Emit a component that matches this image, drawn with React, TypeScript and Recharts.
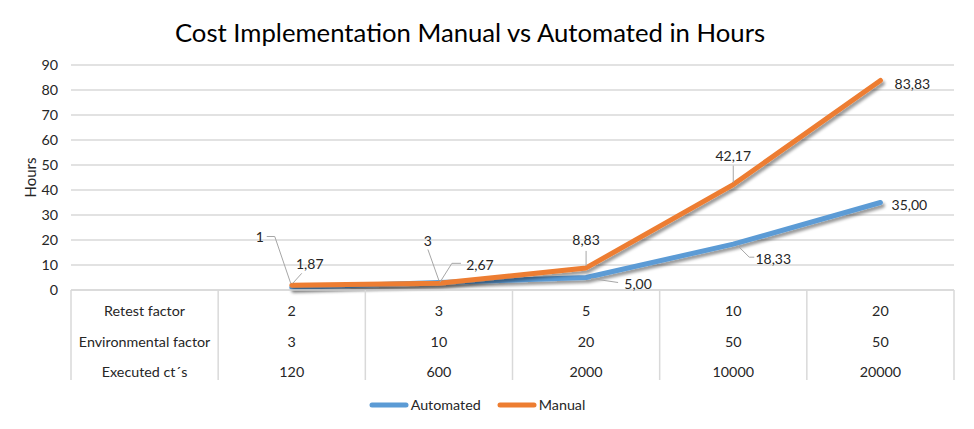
import { CartesianGrid, Legend, LabelList, Line, LineChart, XAxis, YAxis } from "recharts";

const categories = ["labels", "c1", "c2", "c3", "c4", "c5"];
const automated = [null, 1, 3, 5, 18.33, 35];
const manual = [null, 1.87, 2.67, 8.83, 42.17, 83.83];
const rowLabels = ["Retest factor", "Environmental factor", "Executed ct´s"];
const retestFactor = [2, 3, 5, 10, 20];
const environmentalFactor = [3, 10, 20, 50, 50];
const executedCts = [120, 600, 2000, 10000, 20000];
const yTicks = [0, 10, 20, 30, 40, 50, 60, 70, 80, 90];

const tableRows = [retestFactor, environmentalFactor, executedCts];
const data = categories.map((key, i) => ({ key, automated: automated[i], manual: manual[i] }));

const W = 974;
const H = 429;
const MARGIN = { top: 65, right: 20, left: 0, bottom: 10 };
const Y_AXIS_W = 71;
const STEP = (W - MARGIN.left - MARGIN.right - Y_AXIS_W) / categories.length;
const BLUE = "#5B9BD5";
const ORANGE = "#ED7D31";
const GRID = "#D9D9D9";
const FONT = "Lato, 'Open Sans', sans-serif";
const ROW_Y = [20, 51, 81];
const TABLE_H = 90;

// label placement per point (Excel moved some labels by hand, with leader lines)
type LabelCfg = { dx: number; dy: number; dec: number; leader?: number[][] } | null;
const automatedLabelCfg: LabelCfg[] = [
  null,
  { dx: -32, dy: -51, dec: 0, leader: [[-25, -51], [-17, -51], [-1, -4]] },
  { dx: -11, dy: -42, dec: 0, leader: [[-11, -33], [0, -2]] },
  { dx: 52, dy: 6, dec: 2, leader: [[5, 1], [32, 5]] },
  { dx: 40, dy: 14, dec: 2, leader: [[4, 1], [16, 13], [21, 13]] },
  { dx: 29, dy: 2, dec: 2 },
];
const manualLabelCfg: LabelCfg[] = [
  null,
  { dx: 18, dy: -22, dec: 2, leader: [[10, -12], [1, -2]] },
  { dx: 41, dy: -19, dec: 2, leader: [[22, -20], [13, -20], [1, -1]] },
  { dx: 0, dy: -28, dec: 2, leader: [[0, -17], [0, -2]] },
  { dx: 0, dy: -29, dec: 2, leader: [[0, -19], [0, -2]] },
  { dx: 32, dy: 3, dec: 2 },
];

function makeLabel(cfg: LabelCfg[]) {
  return function PointLabel(props: any) {
    const { x, y, value, index } = props;
    const c = cfg[index];
    if (!c || value == null) return null;
    const text = Number(value).toFixed(c.dec).replace(".", ",");
    return (
      <g>
        {c.leader && (
          <polyline
            points={c.leader.map(([px, py]) => `${x + px},${y + py}`).join(" ")}
            fill="none"
            stroke="#A6A6A6"
            strokeWidth={1}
          />
        )}
        <text x={x + c.dx} y={y + c.dy} textAnchor="middle" dominantBaseline="central" fontSize={14} fill="#262626" fontFamily={FONT}>
          {text}
        </text>
      </g>
    );
  };
}

function TableTick({ x, y, payload }: any) {
  const i = payload.index;
  const left = x - STEP / 2;
  return (
    <g>
      <line x1={left} y1={y} x2={left} y2={y + TABLE_H} stroke={GRID} strokeWidth={1.5} />
      {i === categories.length - 1 && (
        <line x1={x + STEP / 2} y1={y} x2={x + STEP / 2} y2={y + TABLE_H} stroke={GRID} strokeWidth={1.5} />
      )}
      {tableRows.map((row, r) => (
        <text key={r} x={x} y={y + ROW_Y[r]} textAnchor="middle" dominantBaseline="central" fontSize={14.3} fill="#262626" fontFamily={FONT}>
          {i === 0 ? rowLabels[r] : row[i - 1]}
        </text>
      ))}
    </g>
  );
}

function LegendContent() {
  const items = [
    { name: "Automated", color: BLUE },
    { name: "Manual", color: ORANGE },
  ];
  return (
    <div
      style={{
        display: "flex",
        justifyContent: "center",
        gap: 16,
        paddingTop: 11,
        fontFamily: FONT,
        fontSize: 14.3,
        color: "#262626",
      }}
    >
      {items.map((it) => (
        <div key={it.name} style={{ display: "flex", alignItems: "center", gap: 2 }}>
          <svg width={40} height={8}>
            <line x1={3} y1={4} x2={37} y2={4} stroke={it.color} strokeWidth={5} strokeLinecap="round" />
          </svg>
          <span>{it.name}</span>
        </div>
      ))}
    </div>
  );
}

export default function App() {
  return (
    <div style={{ position: "relative", width: W, height: H, background: "#fff" }}>
      <style>{`body{margin:0}`}</style>
      <div
        style={{
          position: "absolute",
          top: 17,
          left: -17,
          width: W,
          textAlign: "center",
          fontFamily: FONT,
          fontSize: 25.7,
          color: "#000",
        }}
      >
        Cost Implementation Manual vs Automated in Hours
      </div>
      <LineChart width={W} height={H} data={data} margin={MARGIN}>
        <defs>
          <filter id="lineShadow" x="-10%" y="-10%" width="130%" height="130%">
            <feDropShadow dx={2} dy={3} stdDeviation={1.5} floodColor="#000" floodOpacity={0.4} />
          </filter>
        </defs>
        <CartesianGrid vertical={false} stroke={GRID} strokeWidth={1.5} />
        <XAxis
          dataKey="key"
          scale="band"
          interval={0}
          height={95}
          tickLine={false}
          tickSize={0}
          tickMargin={0}
          axisLine={{ stroke: GRID, strokeWidth: 1.5 }}
          tick={<TableTick />}
        />
        <YAxis
          width={Y_AXIS_W}
          domain={[0, 90]}
          ticks={yTicks}
          axisLine={false}
          tickLine={false}
          tickSize={0}
          tickMargin={13}
          tick={{ fontSize: 14.3, fill: "#262626", fontFamily: FONT }}
          label={({ viewBox }: any) => (
            <text
              x={viewBox.x + 30}
              y={viewBox.y + viewBox.height / 2}
              transform={`rotate(-90 ${viewBox.x + 30} ${viewBox.y + viewBox.height / 2})`}
              textAnchor="middle"
              dominantBaseline="central"
              fontSize={15}
              fill="#262626"
              fontFamily={FONT}
            >
              Hours
            </text>
          )}
        />
        <Legend verticalAlign="bottom" height={34} content={<LegendContent />} />
        <Line
          dataKey="automated"
          stroke={BLUE}
          strokeWidth={5}
          strokeLinecap="round"
          strokeLinejoin="round"
          dot={false}
          activeDot={false}
          filter="url(#lineShadow)"
          isAnimationActive={false}
        >
          <LabelList dataKey="automated" content={makeLabel(automatedLabelCfg)} />
        </Line>
        <Line
          dataKey="manual"
          stroke={ORANGE}
          strokeWidth={5}
          strokeLinecap="round"
          strokeLinejoin="round"
          dot={false}
          activeDot={false}
          filter="url(#lineShadow)"
          isAnimationActive={false}
        >
          <LabelList dataKey="manual" content={makeLabel(manualLabelCfg)} />
        </Line>
      </LineChart>
    </div>
  );
}
